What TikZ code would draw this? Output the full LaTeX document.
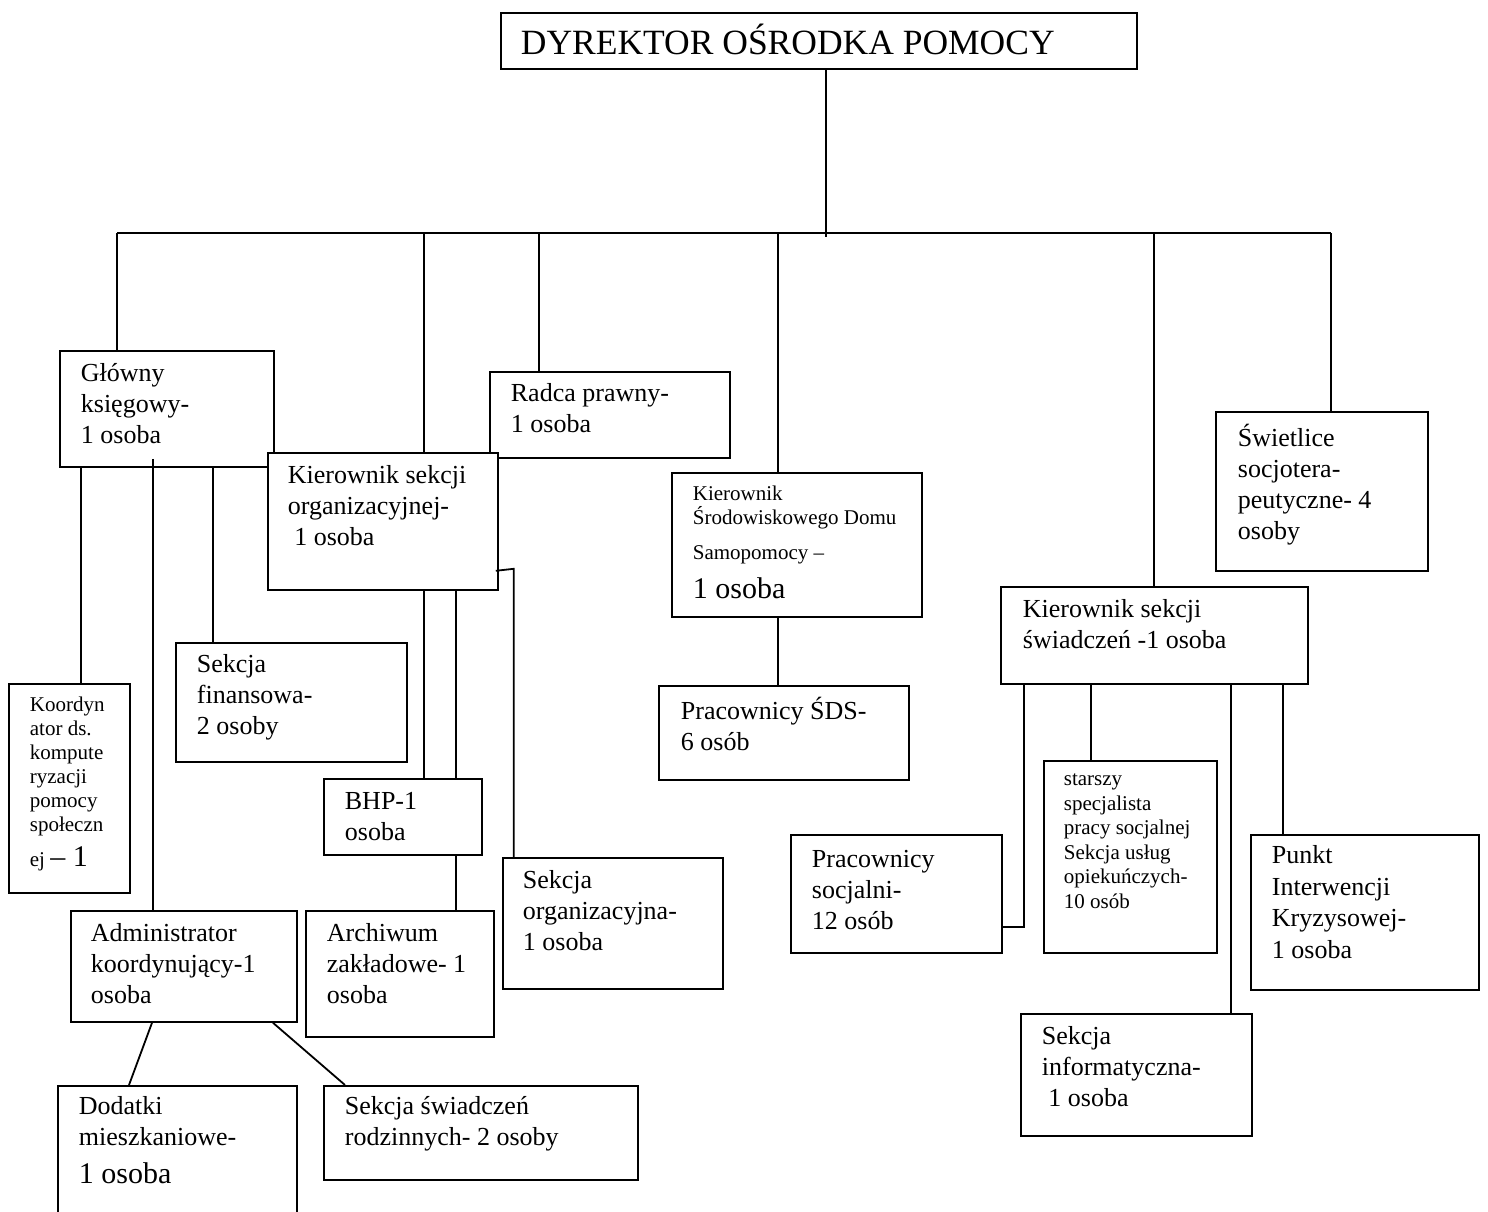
\documentclass[tikz,border=0pt]{standalone}
\usepackage{fontspec}
\setmainfont{Liberation Serif}
\usetikzlibrary{positioning}

\begin{document}
\begin{tikzpicture}[x=1pt, y=-1pt, line width=1.8pt,
    box/.style={
        rectangle,
        draw,
        anchor=north west,
        inner sep=0pt
    },
    txt/.style={
        inner sep=0pt,
        align=left,
        font=\fontsize{26}{31}\selectfont,
        execute at begin node=\strut
    },
    smalltxt/.style={
        txt,
        font=\fontsize{21}{24}\selectfont
    }
]
    \path[use as bounding box, fill=white] (0,0) rectangle (1488,1212);
    \clip (0,0) rectangle (1488,1212);

    % top
    \node (dyrektor) [box, minimum width=636pt, minimum height=56pt] at (500,12) {};
    \node (dyrektor_txt) [txt, font=\fontsize{35.5}{41}\selectfont, below right=11pt and 20pt of dyrektor.north west]
    {
        DYREKTOR OŚRODKA POMOCY
    };

    % second level
    \node (glowny) [box, minimum width=214pt, minimum height=116pt] at (59,350) {};
    \node (glowny_txt) [txt, below right=13pt and 21pt of glowny.north west]
    {
        Główny\\księgowy-\\1 osoba
    };
    \node (radca) [box, minimum width=240pt, minimum height=86pt] at (489,371) {};
    \node (radca_txt) [txt, below right=12pt and 21pt of radca.north west]
    {
        Radca prawny-\\1 osoba
    };
    \node (kierorg) [box, fill=white, minimum width=230pt, minimum height=137pt] at (267,452) {};
    \node (kierorg_txt) [txt, below right=13pt and 20pt of kierorg.north west]
    {
        Kierownik sekcji\\organizacyjnej-\\\ 1 osoba
    };
    \node (kiersds) [box, minimum width=250pt, minimum height=144pt] at (671,472) {};
    \node (kiersds_txt) [smalltxt, below right=13pt and 21pt of kiersds.north west]
    {
        Kierownik\\Środowiskowego Domu\\[11pt]Samopomocy –\\[13pt]{\fontsize{30}{24}\selectfont 1 osoba}
    };
    \node (swietlice) [box, minimum width=212pt, minimum height=159pt] at (1215,411) {};
    \node (swietlice_txt) [txt, below right=12pt and 22pt of swietlice.north west]
    {
        Świetlice\\socjotera-\\peutyczne- 4\\osoby
    };
    \node (kierswiad) [box, minimum width=307pt, minimum height=97pt] at (1000,586) {};
    \node (kierswiad_txt) [txt, below right=13pt and 22pt of kierswiad.north west]
    {
        Kierownik sekcji\\świadczeń -1 osoba
    };

    % third level
    \node (finans) [box, minimum width=231pt, minimum height=119pt] at (175,642) {};
    \node (finans_txt) [txt, below right=12pt and 21pt of finans.north west]
    {
        Sekcja\\finansowa-\\2 osoby
    };
    \node (koord) [box, minimum width=121pt, minimum height=209pt] at (8,683) {};
    \node (koord_txt) [smalltxt, below right=13pt and 21pt of koord.north west]
    {
        Koordyn\\ator ds.\\kompute\\ryzacji\\pomocy\\społeczn\\[10pt]ej {\fontsize{30}{24}\selectfont – 1}
    };
    \node (sdsprac) [box, minimum width=250pt, minimum height=94pt] at (658,685) {};
    \node (sdsprac_txt) [txt, below right=11pt and 22pt of sdsprac.north west]
    {
        Pracownicy ŚDS-\\6 osób
    };
    \node (bhp) [box, minimum width=158pt, minimum height=76pt] at (323,778) {};
    \node (bhp_txt) [txt, below right=13pt and 21pt of bhp.north west]
    {
        BHP-1\\osoba
    };
    \node (sekorg) [box, minimum width=220pt, minimum height=131pt] at (502,857) {};
    \node (sekorg_txt) [txt, below right=13pt and 20pt of sekorg.north west]
    {
        Sekcja\\organizacyjna-\\1 osoba
    };
    \node (admin) [box, minimum width=226pt, minimum height=111pt] at (70,910) {};
    \node (admin_txt) [txt, below right=13pt and 20pt of admin.north west]
    {
        Administrator\\koordynujący-1\\osoba
    };
    \node (archiwum) [box, minimum width=188pt, minimum height=126pt] at (305,910) {};
    \node (archiwum_txt) [txt, below right=13pt and 21pt of archiwum.north west]
    {
        Archiwum\\zakładowe- 1\\osoba
    };
    \node (socjalni) [box, minimum width=211pt, minimum height=118pt] at (790,834) {};
    \node (socjalni_txt) [txt, below right=15pt and 21pt of socjalni.north west]
    {
        Pracownicy\\socjalni-\\12 osób
    };
    \node (starszy) [box, minimum width=173pt, minimum height=192pt] at (1043,760) {};
    \node (starszy_txt) [smalltxt, font=\fontsize{21}{24.5}\selectfont, below right=13pt and 20pt of starszy.north west]
    {
        starszy\\specjalista\\pracy socjalnej\\Sekcja usług\\opiekuńczych-\\10 osób
    };
    \node (punkt) [box, minimum width=228pt, minimum height=155pt] at (1250,834) {};
    \node (punkt_txt) [txt, font=\fontsize{26}{31.5}\selectfont, below right=11pt and 21pt of punkt.north west]
    {
        Punkt\\Interwencji\\Kryzysowej-\\1 osoba
    };
    \node (informat) [box, minimum width=231pt, minimum height=122pt] at (1020,1013) {};
    \node (informat_txt) [txt, below right=13pt and 21pt of informat.north west]
    {
        Sekcja\\informatyczna-\\\ 1 osoba
    };

    % bottom
    \node (dodatki) [box, minimum width=239pt, minimum height=150pt] at (57,1085) {};
    \node (dodatki_txt) [txt, below right=11pt and 21pt of dodatki.north west]
    {
        Dodatki\\mieszkaniowe-\\[7pt]{\fontsize{30}{31}\selectfont 1 osoba}
    };
    \node (rodzinne) [box, minimum width=314pt, minimum height=94pt] at (323,1085) {};
    \node (rodzinne_txt) [txt, below right=11pt and 21pt of rodzinne.north west]
    {
        Sekcja świadczeń\\rodzinnych- 2 osoby
    };

    % bus under the director
    \coordinate (bus_w) at (117,233);
    \coordinate (bus_e) at (1331,233);
    \coordinate (dir_tap) at (826,237);
    \draw (bus_w) -- (bus_e);
    \draw (dir_tap |- dyrektor.south) -- (dir_tap);
    \foreach \x/\n in {117/glowny, 424/kierorg, 539/radca, 778/kiersds, 1154/kierswiad, 1331/swietlice}
    {
        \coordinate (tap_\n) at (\x,233);
        \draw (tap_\n) -- (tap_\n |- \n.north);
    }

    % under the accountant
    \path (glowny.south west) ++(22,0) coordinate (glowny_a) ++(72,0) coordinate (glowny_b) ++(60,0) coordinate (glowny_c);
    \draw (glowny_a) -- (glowny_a |- koord.north);
    \draw ([yshift=9pt]glowny_b) -- (glowny_b |- admin.north);
    \draw (glowny_c) -- (glowny_c |- finans.north);

    % under the organisation section
    \path (kierorg.south west) ++(157,0) coordinate (kierorg_a) ++(32,0) coordinate (kierorg_b);
    \draw (kierorg_a) -- (kierorg_a |- bhp.north);
    \draw (kierorg_b) -- (kierorg_b |- bhp.north);
    \draw (kierorg_b |- bhp.south) -- (kierorg_b |- archiwum.north);
    \path (kierorg.south east) ++(-3,-20) coordinate (kierorg_c) ++(18,-2) coordinate (kierorg_d);
    \draw (kierorg_c) -- (kierorg_d) -- (kierorg_d |- sekorg.north);

    % under the administrator
    \draw ([xshift=82pt]admin.south west) -- ([xshift=72pt]dodatki.north west);
    \draw ([xshift=203pt]admin.south west) -- ([xshift=22pt]rodzinne.north west);

    % SDS
    \draw (tap_kiersds |- kiersds.south) -- (tap_kiersds |- sdsprac.north);

    % under the benefits section
    \path (kierswiad.south west) ++(24,0) coordinate (kierswiad_a) ++(67,0) coordinate (kierswiad_b) ++(140,0) coordinate (kierswiad_c) ++(52,0) coordinate (kierswiad_d);
    \draw (kierswiad_a) |- ([yshift=27pt]socjalni.south east);
    \draw (kierswiad_b) -- (kierswiad_b |- starszy.north);
    \draw (kierswiad_c) -- (kierswiad_c |- informat.north);
    \draw (kierswiad_d) -- (kierswiad_d |- punkt.north);
\end{tikzpicture}
\end{document}
